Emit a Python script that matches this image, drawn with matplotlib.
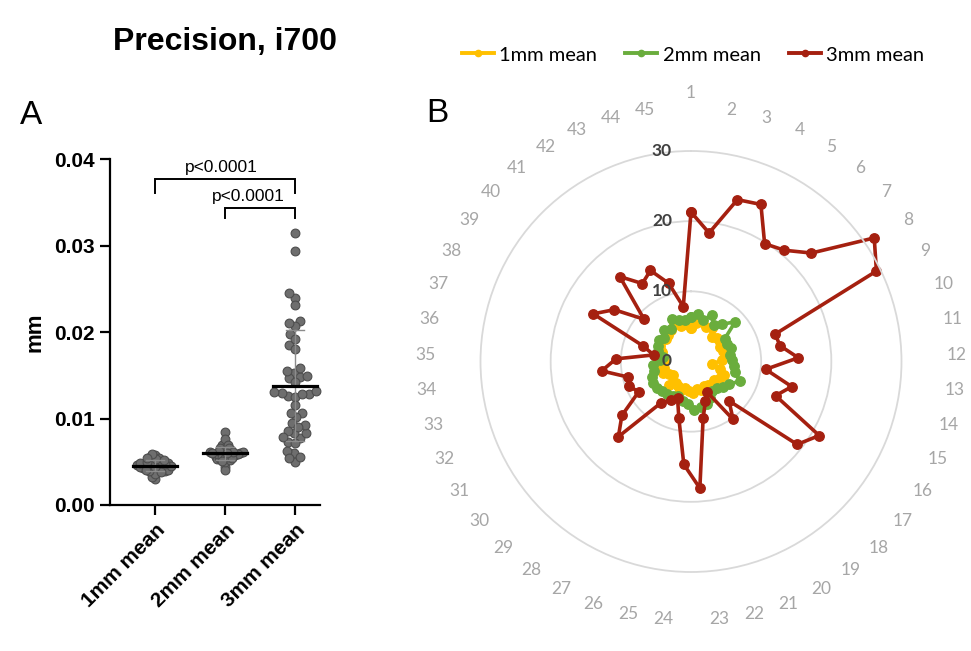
import numpy as np
import matplotlib
matplotlib.use('Agg')
import matplotlib.pyplot as plt
from matplotlib import font_manager
from matplotlib.lines import Line2D

# ---------------- data ----------------
groups = ['1mm mean', '2mm mean', '3mm mean']
spokes = [str(i) for i in range(1, 46)]
# per-point values in micrometres (radar); panel A shows them in mm
mean_1mm = [4.8, 5.5, 5.8, 5.4, 5.6, 4.6, 4.9, 5.0, 4.6, 4.8,
            5.2, 4.4, 3.0, 4.3, 5.0, 4.8, 4.2, 4.6, 4.1, 3.9,
            4.3, 4.0, 4.5, 4.2, 3.8, 4.4, 4.0, 3.7, 4.6, 3.2,
            3.6, 4.3, 3.9, 4.5, 3.8, 4.0, 4.4, 4.9, 5.1, 4.7,
            5.0, 5.3, 5.9, 5.2, 5.4]
mean_2mm = [6.4, 6.8, 6.2, 7.2, 6.1, 6.9, 8.5, 5.8, 5.7, 6.0,
            5.6, 5.9, 6.1, 6.4, 7.6, 6.3, 5.8, 5.3, 5.2, 5.9,
            6.5, 6.6, 6.9, 6.1, 5.8, 5.3, 5.6, 5.8, 5.9, 6.1,
            6.2, 6.0, 5.5, 5.4, 4.4, 4.0, 5.0, 5.2, 5.5, 5.1,
            5.9, 5.4, 6.6, 6.1, 6.0]
mean_3mm = [21.3, 18.5, 24.0, 24.5, 19.8, 20.7, 23.1, 31.5, 29.4, 12.6,
            12.9, 15.3, 10.7, 14.8, 13.0, 21.1, 19.2, 7.8, 10.2, 5.0,
            6.0, 8.3, 18.1, 14.7, 8.3, 5.6, 6.2, 7.3, 14.9, 12.5,
            8.6, 9.5, 9.2, 12.8, 10.7, 5.4, 7.2, 15.5, 13.2, 9.0,
            15.8, 13.1, 14.2, 11.6, 7.9]
ring_ticks = [0, 10, 20, 30]
y_ticks = [0.00, 0.01, 0.02, 0.03, 0.04]
p_labels = ['p<0.0001', 'p<0.0001']
p_pairs = [(0, 2), (1, 2)]
series_colors = ['#FFC000', '#6AAD3D', '#A52010']

W, H = 971, 651
avail = {f.name for f in font_manager.fontManager.ttflist}
ARIAL = 'Liberation Sans'
EXCEL = 'Lato' if 'Lato' in avail else 'DejaVu Sans'

fig = plt.figure(figsize=(W / 100, H / 100), dpi=100)

# ---------------- Panel A ----------------
axA = fig.add_axes([110 / W, (H - 505) / H, 210 / W, (505 - 159.3) / H])
axA.set_xlim(-0.643, 2.357)
axA.set_ylim(0, 0.04)
px_per_unit_y = (505 - 159.3) / 0.04
px_per_unit_x = 70.0


def swarm_offsets(vals_px, d):
    order = np.argsort(vals_px)
    placed = []
    offs = np.zeros(len(vals_px))
    for i in order:
        y = vals_px[i]
        near = [(px, py) for px, py in placed if abs(py - y) < d]
        cands = [0.0]
        for px, py in near:
            dx = np.sqrt(d * d - (py - y) ** 2)
            cands += [px + dx, px - dx]
        cands.sort(key=lambda c: (abs(c), c))
        chosen = 0.0
        for c in cands:
            if all((c - px) ** 2 + (y - py) ** 2 >= d * d - 1e-6 for px, py in near):
                chosen = c
                break
        offs[i] = chosen
        placed.append((chosen, y))
    return offs


def limited_swarm(vals_px, max_half=21.0):
    d = 9.0
    while d > 1.0:
        offs = swarm_offsets(vals_px, d)
        if np.abs(offs).max() <= max_half:
            return offs
        d -= 0.2
    return swarm_offsets(vals_px, d)


for gi, vals in enumerate([mean_1mm, mean_2mm, mean_3mm]):
    v = np.array(vals) / 1000.0
    offs = limited_swarm(v * px_per_unit_y) / px_per_unit_x
    axA.scatter(gi + offs, v, s=40, color='#6e6e6e', edgecolor='#4d4d4d',
                linewidth=0.8, zorder=3, clip_on=False)
    m, sd = v.mean(), v.std(ddof=1)
    axA.plot([gi - 0.31, gi + 0.31], [m, m], color='black', lw=2.3, zorder=5)
    axA.plot([gi, gi], [m - sd, m + sd], color='#8c8c8c', lw=1.0, zorder=4)
    for yy in (m - sd, m + sd):
        axA.plot([gi - 0.13, gi + 0.13], [yy, yy], color='#8c8c8c', lw=1.0, zorder=4)

for spine in ['top', 'right']:
    axA.spines[spine].set_visible(False)
for spine in ['left', 'bottom']:
    axA.spines[spine].set_linewidth(1.6)
axA.set_yticks(y_ticks)
axA.set_yticklabels([f'{t:.2f}' for t in y_ticks], fontsize=15, fontweight='bold', family=ARIAL)
axA.set_xticks(range(len(groups)))
axA.set_xticklabels(groups, rotation=45, ha='right', rotation_mode='anchor',
                    fontsize=15, fontweight='bold', family=ARIAL)
axA.tick_params(axis='both', direction='out', length=7, width=1.6, pad=4)
axA.set_ylabel('mm', fontsize=16, fontweight='bold', family=ARIAL, labelpad=6)

# significance brackets
bracket_y = [0.0377, 0.03434]
bracket_drop = [0.00155, 0.00116]
text_shift = [-0.05, -0.17]
for (a, b), yb, dr, sh, lab in zip(p_pairs, bracket_y, bracket_drop, text_shift, p_labels):
    axA.plot([a, a, b, b], [yb - dr, yb, yb, yb - dr], color='black', lw=1.4,
             clip_on=False, solid_joinstyle='miter')
    axA.text((a + b) / 2 + sh, yb + 0.0005, lab, ha='center', va='bottom',
             fontsize=12.5, family=ARIAL, clip_on=False)

fig.text(225 / W, 1 - 42 / H, 'Precision, i700', ha='center', va='center',
         fontsize=23, fontweight='bold', family=ARIAL)
fig.text(31 / W, 1 - 115 / H, 'A', ha='center', va='center', fontsize=24, family=ARIAL)
fig.text(437 / W, 1 - 113 / H, 'B', ha='center', va='center', fontsize=24, family=ARIAL)

# ---------------- Panel B (radar) ----------------
cx, cy = 691.0, 361.5
axB = fig.add_axes([(cx - 210.5) / W, (H - cy - 210.5) / H, 421 / W, 421 / H], projection='polar')
axB.set_theta_zero_location('N')
axB.set_theta_direction(-1)
axB.set_ylim(0, 30)
axB.set_xticks([])
axB.set_yticks([10, 20])
axB.set_yticklabels([])
axB.yaxis.grid(True, color='#d9d9d9', lw=1.3)
axB.spines['polar'].set_color('#d9d9d9')
axB.spines['polar'].set_linewidth(1.3)
axB.patch.set_alpha(0)

theta = np.deg2rad(np.arange(len(spokes)) * 360.0 / len(spokes))
theta_c = np.append(theta, theta[0])
handles = []
for vals, col, lab in zip([mean_1mm, mean_2mm, mean_3mm], series_colors, groups):
    vv = np.append(vals, vals[0])
    axB.plot(theta_c, vv, color=col, lw=2.6, marker='o', ms=6.8, clip_on=False)
    handles.append(Line2D([], [], color=col, lw=2.8, marker='o', ms=4.5))

for t in ring_ticks:
    axB.annotate(str(t), xy=(0, t), xytext=(-19, 0), textcoords='offset pixels',
                 ha='right', va='center', fontsize=12.5, fontweight='bold',
                 color='#404040', family=EXCEL, zorder=10)

# spoke labels around the plot (pixel layout, anchored by their near edge)
for th, lab in zip(theta, spokes):
    s, c = np.sin(th), np.cos(th)
    lx = cx + 255.4 * s
    ly = 363.5 - 255.8 * c
    if abs(s) < 1e-6:
        ha = 'center'
        ly -= 15
    else:
        ha = 'left' if s > 0 else 'right'
    fig.text(lx / W, 1 - ly / H, lab, ha=ha, va='center', fontsize=12.5,
             color='#a6a6a6', family=EXCEL)

fig.legend(handles, groups, loc='center', bbox_to_anchor=(693 / W, 1 - 55 / H), ncol=3,
           frameon=False, handlelength=1.6, columnspacing=1.4, handletextpad=0.25,
           prop={'family': EXCEL, 'size': 14.5})

fig.savefig('out.png', dpi=100)
